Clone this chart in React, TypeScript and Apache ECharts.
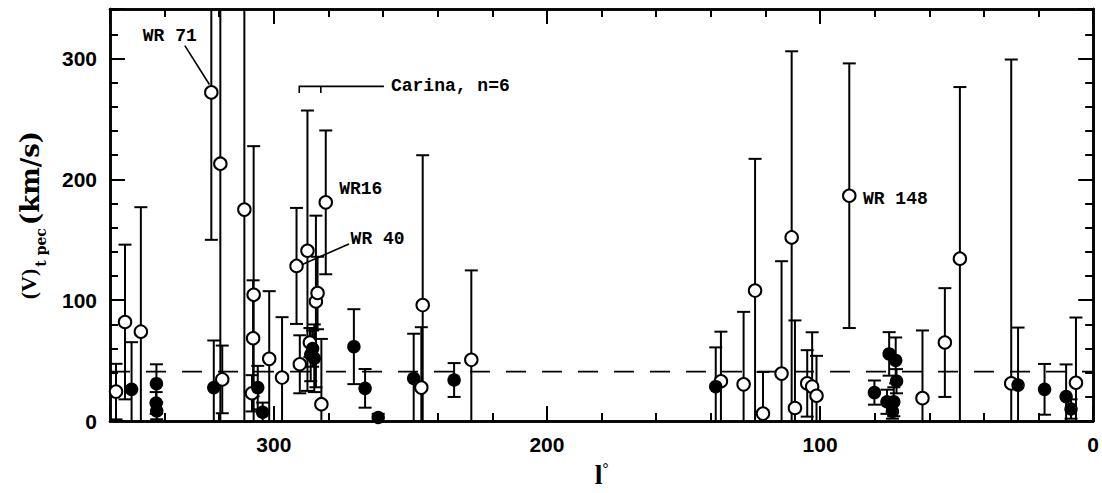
import React, { useEffect, useRef } from "react";
import * as echarts from "echarts";

// ---- axis ranges and ticks ----
const L_MIN = 0;
const L_MAX = 360;
const V_MIN = 0;
const V_MAX = 341;
const MAJOR_STEP = 100;
const MINOR_STEP = 20;
const X_TICK_LABELS = ["0", "100", "200", "300"];
const Y_TICK_LABELS = ["0", "100", "200", "300"];

// dashed mean level (km/s)
const MEAN_LEVEL = 41;

// ---- open circles: galactic longitude, velocity, error ----
const openL = [357.8, 354.5, 348.7, 322.9, 319.6, 318.9, 310.8, 307.4, 307.6, 308.0, 301.7, 297.0, 291.7, 290.5, 287.7, 286.8, 284.6, 284.0, 282.6, 281.0, 246.0, 245.5, 227.7, 136.3, 128.0, 123.8, 120.9, 114.1, 110.4, 109.2, 104.7, 102.9, 101.3, 89.3, 62.5, 54.3, 48.8, 30.0, 6.3];
const openV = [24.4, 82, 74, 272, 213, 34.5, 175, 104.5, 68.5, 23, 51.5, 36, 128.4, 47, 141, 65, 99, 106, 14, 181, 27.7, 96, 50.7, 33, 30.4, 108, 6.2, 39.3, 152, 10.8, 31.2, 28.5, 21, 186.5, 19, 65, 134.4, 31.2, 31.7];
const openErr = [23, 64, 103, 122, 215, 28, 190, 123, 48, 15, 56, 50, 48, 24, 116, 12, 71, 30, 54, 59.5, 50, 124, 74, 41, 60, 109, 34.5, 93, 154, 72.5, 27.5, 45, 33, 109.5, 56, 45, 142, 268, 54];

// ---- filled circles ----
const filledL = [352.1, 343.0, 343.1, 342.9, 322.0, 305.9, 304.1, 286.5, 285.8, 285.2, 270.7, 266.6, 261.8, 248.8, 234.0, 138.2, 80.1, 74.7, 72.3, 72.0, 75.5, 73.0, 73.5, 27.5, 17.8, 9.9, 8.1];
const filledV = [26.3, 31, 15, 8.5, 27.7, 27.7, 7.3, 55, 60, 52, 61.6, 27.1, 3, 35.3, 34, 28.5, 23.6, 55.6, 50.2, 33, 16, 16, 8, 29.8, 26.3, 20.3, 10];
const filledErr = [39, 16, 9, 7, 39, 18, 8, 22, 15, 28, 31, 16, 3, 37, 14, 32.5, 10, 18, 19, 10, 10, 12, 6, 47.6, 21, 26.6, 8];

// ---- annotations (anchored in data coordinates) ----
const WR71_TEXT = "WR 71";
const WR71_TEXT_AT = [338.1, 318.9];
const WR71_LINE = [[332.6, 310.7], [323.6, 278.5]];
const CARINA_TEXT = "Carina, n=6";
const CARINA_LEVEL = 277;
const CARINA_SPAN = [290.7, 282.8, 259.7];
const CARINA_TICK = 5.5;
const WR16_TEXT = "WR16";
const WR16_TEXT_AT = [276.1, 191.9];
const WR40_TEXT = "WR 40";
const WR40_TEXT_AT = [271.9, 150.7];
const WR40_LINE = [[272.5, 146.6], [289.6, 129.6]];
const WR148_TEXT = "WR 148";
const WR148_TEXT_AT = [84.3, 183.7];

const SANS = "'Liberation Sans', Arial, sans-serif";
const SERIF = "'Liberation Serif', 'DejaVu Serif', serif";
const DSERIF = "'DejaVu Serif', serif";
const MONO = "'Liberation Mono', 'DejaVu Sans Mono', monospace";

function errorBars(l: number[], v: number[], e: number[]) {
  return {
    type: "custom",
    xAxisIndex: 0,
    yAxisIndex: 0,
    clip: true,
    z: 2,
    data: l.map((x, i) => [x, v[i], e[i]]),
    encode: { x: 0, y: 1 },
    renderItem: (params: any, api: any) => {
      const x = api.value(0);
      const y = api.value(1);
      const err = api.value(2);
      const top = api.coord([x, y + err]);
      const bot = api.coord([x, y - err]);
      const hw = 6.5;
      const st = { stroke: "#000", lineWidth: 2 };
      return {
        type: "group",
        children: [
          { type: "line", shape: { x1: top[0], y1: top[1], x2: bot[0], y2: bot[1] }, style: st },
          { type: "line", shape: { x1: top[0] - hw, y1: top[1], x2: top[0] + hw, y2: top[1] }, style: st },
          { type: "line", shape: { x1: bot[0] - hw, y1: bot[1], x2: bot[0] + hw, y2: bot[1] }, style: st },
        ],
      };
    },
  };
}

export default function App() {
  const ref = useRef<HTMLDivElement>(null);
  useEffect(() => {
    if (!ref.current) return;
    const chart = echarts.init(ref.current, undefined, { renderer: "svg" });
    const axisLine = { onZero: false, lineStyle: { color: "#000", width: 2.5 } };
    const majorTick = { inside: true, length: 15, lineStyle: { color: "#000", width: 2 } };
    const minorTick = { inside: true, length: 8, lineStyle: { color: "#000", width: 2 } };
    const baseX = { type: "value", min: L_MIN, max: L_MAX, inverse: true, splitLine: { show: false }, axisLine };
    const baseY = { type: "value", min: V_MIN, max: V_MAX, splitLine: { show: false }, axisLine };
    const tickLabel = {
      color: "#000",
      fontFamily: SANS,
      fontWeight: "bold",
      fontSize: 21,
    };
    chart.setOption({
      animation: false,
      backgroundColor: "#fff",
      grid: { left: 110, right: 5, top: 9, bottom: 65, containLabel: false },
      xAxis: [
        {
          ...baseX,
          position: "bottom",
          interval: MAJOR_STEP,
          axisTick: majorTick,
          axisLabel: {
            ...tickLabel,
            margin: 13,
            formatter: (val: number) => (X_TICK_LABELS.includes(String(val)) ? String(val) : ""),
          },
          name: "{l|l}{d|°}",
          nameLocation: "middle",
          nameGap: 36,
          nameTextStyle: {
            rich: {
              l: { fontFamily: SERIF, fontWeight: "bold", fontSize: 28, lineHeight: 28, color: "#000", verticalAlign: "top" },
              d: { fontFamily: SERIF, fontWeight: "bold", fontSize: 15, lineHeight: 15, color: "#000", verticalAlign: "top" },
            },
          },
        },
        { ...baseX, position: "bottom", interval: MINOR_STEP, axisTick: minorTick, axisLabel: { show: false } },
        { ...baseX, position: "top", interval: MAJOR_STEP, axisTick: majorTick, axisLabel: { show: false } },
        { ...baseX, position: "top", interval: MINOR_STEP, axisTick: minorTick, axisLabel: { show: false } },
      ],
      yAxis: [
        {
          ...baseY,
          position: "left",
          interval: MAJOR_STEP,
          axisTick: majorTick,
          axisLabel: {
            ...tickLabel,
            margin: 13,
            formatter: (val: number) => (Y_TICK_LABELS.includes(String(val)) ? String(val) : ""),
          },
          name: "{m|(V)}{s|t pec}{k|(km/s)}",
          nameLocation: "middle",
          nameGap: 71,
          nameRotate: 90,
          nameTextStyle: {
            rich: {
              m: { fontFamily: SERIF, fontWeight: "bold", fontSize: 22, lineHeight: 22, color: "#000", verticalAlign: "top" },
              s: { fontFamily: DSERIF, fontWeight: "bold", fontSize: 14, lineHeight: 13, color: "#000", verticalAlign: "top", padding: [17, 3, 0, 2] },
              k: { fontFamily: DSERIF, fontWeight: "bold", fontSize: 26, lineHeight: 22, color: "#000", verticalAlign: "top" },
            },
          },
        },
        { ...baseY, position: "left", interval: MINOR_STEP, axisTick: minorTick, axisLabel: { show: false } },
        { ...baseY, position: "right", interval: MAJOR_STEP, axisTick: majorTick, axisLabel: { show: false } },
        { ...baseY, position: "right", interval: MINOR_STEP, axisTick: minorTick, axisLabel: { show: false } },
      ],
      series: [
        {
          type: "line",
          xAxisIndex: 0,
          yAxisIndex: 0,
          data: [[L_MAX, MEAN_LEVEL], [L_MIN, MEAN_LEVEL]],
          symbol: "none",
          z: 1,
          lineStyle: { color: "#000", width: 1.8, type: [20, 16] },
          silent: true,
        },
        errorBars(openL, openV, openErr),
        errorBars(filledL, filledV, filledErr),
        {
          type: "scatter",
          xAxisIndex: 0,
          yAxisIndex: 0,
          z: 3,
          symbol: "circle",
          symbolSize: 12.5,
          data: openL.map((x, i) => [x, openV[i]]),
          itemStyle: { color: "#fff", borderColor: "#000", borderWidth: 2, opacity: 1 },
          clip: true,
        },
        {
          type: "scatter",
          xAxisIndex: 0,
          yAxisIndex: 0,
          z: 4,
          symbol: "circle",
          symbolSize: 13.5,
          data: filledL.map((x, i) => [x, filledV[i]]),
          itemStyle: { color: "#000", opacity: 1 },
          clip: true,
        },
      ],
    });

    const px = (p: number[]) => chart.convertToPixel({ xAxisIndex: 0, yAxisIndex: 0 }, p) as number[];
    const textStyle = (text: string, align: string) => ({
      text,
      font: `bold 18px ${MONO}`,
      fill: "#000",
      textAlign: align,
      align,
      textVerticalAlign: "middle",
      verticalAlign: "middle",
    });
    const lineStyle = { stroke: "#000", lineWidth: 1.6 };
    const t71 = px(WR71_TEXT_AT);
    const l71a = px(WR71_LINE[0]);
    const l71b = px(WR71_LINE[1]);
    const c0 = px([CARINA_SPAN[0], CARINA_LEVEL]);
    const c0d = px([CARINA_SPAN[0], CARINA_LEVEL - CARINA_TICK]);
    const c1 = px([CARINA_SPAN[1], CARINA_LEVEL]);
    const c1d = px([CARINA_SPAN[1], CARINA_LEVEL - CARINA_TICK]);
    const c2 = px([CARINA_SPAN[2], CARINA_LEVEL]);
    const t16 = px(WR16_TEXT_AT);
    const t40 = px(WR40_TEXT_AT);
    const l40a = px(WR40_LINE[0]);
    const l40b = px(WR40_LINE[1]);
    const t148 = px(WR148_TEXT_AT);

    chart.setOption({
      graphic: [
        { type: "text", x: t71[0], y: t71[1], style: textStyle(WR71_TEXT, "center"), z: 10 },
        { type: "line", shape: { x1: l71a[0], y1: l71a[1], x2: l71b[0], y2: l71b[1] }, style: lineStyle, z: 10 },
        { type: "polyline", shape: { points: [c0d, c0, c2] }, style: { ...lineStyle, fill: null }, z: 10 },
        { type: "line", shape: { x1: c1[0], y1: c1[1], x2: c1d[0], y2: c1d[1] }, style: lineStyle, z: 10 },
        { type: "text", x: c2[0] + 7, y: c2[1], style: textStyle(CARINA_TEXT, "left"), z: 10 },
        { type: "text", x: t16[0], y: t16[1], style: textStyle(WR16_TEXT, "left"), z: 10 },
        { type: "text", x: t40[0], y: t40[1], style: textStyle(WR40_TEXT, "left"), z: 10 },
        { type: "line", shape: { x1: l40a[0], y1: l40a[1], x2: l40b[0], y2: l40b[1] }, style: lineStyle, z: 10 },
        { type: "text", x: t148[0], y: t148[1], style: textStyle(WR148_TEXT, "left"), z: 10 },
      ],
    });

    return () => chart.dispose();
  }, []);

  return (
    <div
      ref={ref}
      style={{ position: "fixed", left: 0, top: 0, width: "1102px", height: "493px", background: "#fff" }}
    />
  );
}
